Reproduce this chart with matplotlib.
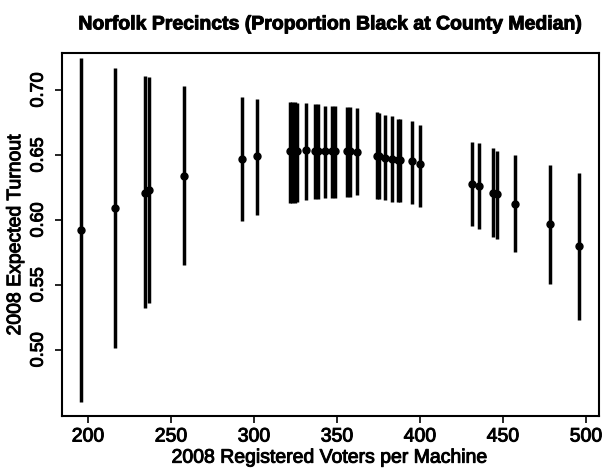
import matplotlib
matplotlib.use("Agg")
import matplotlib.pyplot as plt
import matplotlib.patheffects as pe
import numpy as np

# registered voters per machine, expected turnout and its interval per precinct
voters = [196, 216.5, 234, 237, 258, 293, 302,
          321.5, 323, 324.5, 326, 331, 337, 338.5, 343, 347, 348.5,
          356, 357.5, 362, 374, 375.5, 379, 383, 386.5, 388, 395, 400,
          431.5, 435.5, 444, 446.5, 457, 478, 496]
turnout = [0.592, 0.609, 0.621, 0.623, 0.634, 0.647, 0.649,
           0.653, 0.653, 0.653, 0.653, 0.654, 0.653, 0.653, 0.653, 0.653, 0.653,
           0.653, 0.653, 0.652, 0.649, 0.649, 0.648, 0.647, 0.646, 0.646, 0.645, 0.643,
           0.628, 0.626, 0.621, 0.620, 0.612, 0.597, 0.580]
lower = [0.460, 0.501, 0.532, 0.536, 0.565, 0.599, 0.604,
         0.613, 0.613, 0.613, 0.614, 0.615, 0.616, 0.616, 0.617, 0.617, 0.617,
         0.618, 0.618, 0.619, 0.616, 0.616, 0.615, 0.614, 0.614, 0.614, 0.612, 0.610,
         0.595, 0.593, 0.587, 0.585, 0.575, 0.551, 0.523]
upper = [0.725, 0.717, 0.711, 0.710, 0.703, 0.695, 0.693,
         0.691, 0.691, 0.691, 0.690, 0.690, 0.689, 0.689, 0.688, 0.688, 0.688,
         0.687, 0.687, 0.686, 0.683, 0.682, 0.681, 0.680, 0.678, 0.678, 0.676, 0.673,
         0.660, 0.659, 0.655, 0.653, 0.650, 0.642, 0.636]

x_ticks = [200, 250, 300, 350, 400, 450, 500]
y_ticks = [0.50, 0.55, 0.60, 0.65, 0.70]

plt.rcParams['font.family'] = ['Liberation Sans', 'DejaVu Sans']

fig = plt.figure(figsize=(6.06, 4.72), dpi=100)
ax = fig.add_axes([62 / 606, 1 - 416 / 472, 537 / 606, 363 / 472])

# vertical intervals with the point estimate on top
ax.vlines(voters, lower, upper, color='black', linewidth=2.5)
ax.plot(voters, turnout, 'o', color='black', markersize=5)

ax.set_xlim(184.3, 507.8)
ax.set_ylim(0.449, 0.7285)
ax.set_xticks(x_ticks)
ax.set_yticks(y_ticks)
ax.set_yticklabels(['%.2f' % v for v in y_ticks], rotation=90, va='center')

ax.tick_params(direction='out', length=5, width=1.2, colors='black')
ax.tick_params(axis='x', pad=4, labelsize=14)
ax.tick_params(axis='y', pad=6, labelsize=13)
for side in ax.spines.values():
    side.set_linewidth(1.5)

title = ax.set_title('Norfolk Precincts (Proportion Black at County Median)',
                     fontsize=14, fontweight='bold', pad=17)
xl = ax.set_xlabel('2008 Registered Voters per Machine', fontsize=14, labelpad=3)
yl = ax.set_ylabel('2008 Expected Turnout', fontsize=14, labelpad=4)

# slightly heavier strokes on the text
heavy = [pe.withStroke(linewidth=0.7, foreground='black')]
for t in [title, xl, yl] + ax.get_xticklabels() + ax.get_yticklabels():
    t.set_path_effects(heavy)

fig.savefig('out.png', dpi=100, facecolor='white')
